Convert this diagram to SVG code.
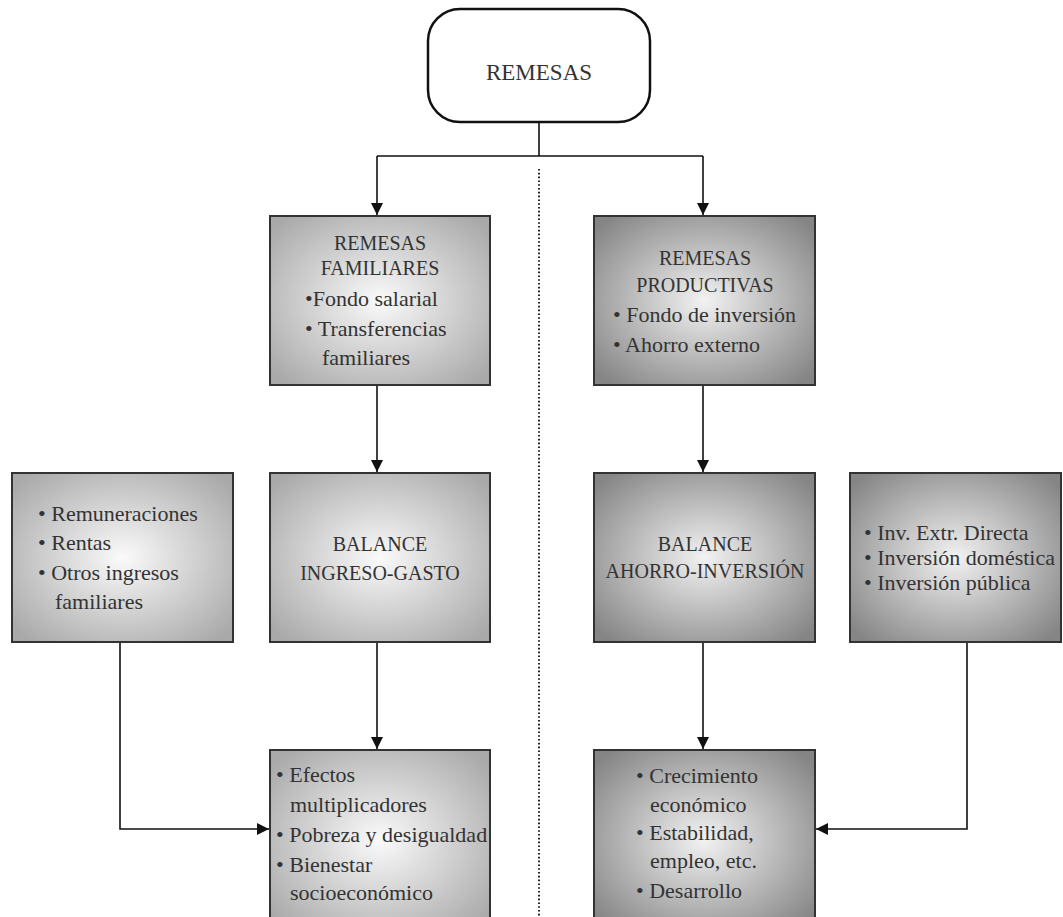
<svg xmlns="http://www.w3.org/2000/svg" width="1063" height="917" viewBox="0 0 1063 917">
<style>
  text { font-family: "Liberation Serif", "Times New Roman", serif; fill: #333; }
  .cap { font-size: 20px; }
  .t { font-size: 22px; }
  .top { font-size: 23px; }
  .box { stroke: #333; stroke-width: 2; }
  .conn { fill: none; stroke: #111; stroke-width: 1.6; }
  .dot { fill: none; stroke: #222; stroke-width: 2; stroke-dasharray: 1.6 2.2; }
</style>
<defs>
  <radialGradient id="gLight" cx="50%" cy="50%" r="65%">
    <stop offset="0" stop-color="#fafafa"/>
    <stop offset="1" stop-color="#a9a9a9"/>
  </radialGradient>
  <radialGradient id="gDark" cx="50%" cy="50%" r="65%">
    <stop offset="0" stop-color="#f2f2f2"/>
    <stop offset="1" stop-color="#858585"/>
  </radialGradient>
  <marker id="arr" markerWidth="12" markerHeight="13" refX="12" refY="6" orient="auto" markerUnits="userSpaceOnUse">
    <path d="M0,0 L12,6 L0,12 z" fill="#111"/>
  </marker>
</defs>

<g id="connectors">
  <line class="dot" x1="539" y1="169" x2="539" y2="917"/>
  <polyline class="conn" points="539,122 539,156"/>
  <polyline class="conn" points="377,156 703,156"/>
  <polyline class="conn" points="377,156 377,215" marker-end="url(#arr)"/>
  <polyline class="conn" points="703,156 703,215" marker-end="url(#arr)"/>
  <polyline class="conn" points="377,385 377,472" marker-end="url(#arr)"/>
  <polyline class="conn" points="703,385 703,472" marker-end="url(#arr)"/>
  <polyline class="conn" points="377,642 377,749" marker-end="url(#arr)"/>
  <polyline class="conn" points="703,642 703,749" marker-end="url(#arr)"/>
  <polyline class="conn" points="120,642 120,829 269,829" marker-end="url(#arr)"/>
  <polyline class="conn" points="967,642 967,829 816,829" marker-end="url(#arr)"/>
</g>

<g id="remesas">
  <rect x="428" y="9" width="222" height="113" rx="32" ry="32" fill="#fff" stroke="#111" stroke-width="2.5"/>
  <text class="top" x="539" y="80" text-anchor="middle">REMESAS</text>
</g>

<g id="remesas-familiares">
  <rect class="box" x="270" y="216" width="220" height="169" fill="url(#gLight)"/>
  <text class="cap" x="380" y="250" text-anchor="middle">REMESAS</text>
  <text class="cap" x="380" y="275" text-anchor="middle">FAMILIARES</text>
  <text class="t" x="305" y="306">•Fondo salarial</text>
  <text class="t" x="305" y="336">• Transferencias</text>
  <text class="t" x="322" y="365">familiares</text>
</g>

<g id="remesas-productivas">
  <rect class="box" x="594" y="216" width="221" height="169" fill="url(#gDark)"/>
  <text class="cap" x="705" y="265" text-anchor="middle">REMESAS</text>
  <text class="cap" x="705" y="292" text-anchor="middle">PRODUCTIVAS</text>
  <text class="t" x="613" y="322">• Fondo de inversión</text>
  <text class="t" x="613" y="352">• Ahorro externo</text>
</g>

<g id="ingresos">
  <rect class="box" x="12" y="473" width="221" height="169" fill="url(#gLight)"/>
  <text class="t" x="38" y="521">• Remuneraciones</text>
  <text class="t" x="38" y="550">• Rentas</text>
  <text class="t" x="38" y="580">• Otros ingresos</text>
  <text class="t" x="55" y="609">familiares</text>
</g>

<g id="balance-ingreso-gasto">
  <rect class="box" x="270" y="473" width="220" height="169" fill="url(#gLight)"/>
  <text class="cap" x="380" y="551" text-anchor="middle">BALANCE</text>
  <text class="cap" x="380" y="580" text-anchor="middle">INGRESO-GASTO</text>
</g>

<g id="balance-ahorro-inversion">
  <rect class="box" x="594" y="473" width="221" height="169" fill="url(#gDark)"/>
  <text class="cap" x="705" y="551" text-anchor="middle">BALANCE</text>
  <text class="cap" x="705" y="578" text-anchor="middle">AHORRO-INVERSIÓN</text>
</g>

<g id="inversion">
  <rect class="box" x="850" y="473" width="211" height="169" fill="url(#gDark)"/>
  <text class="t" x="864" y="540">• Inv. Extr. Directa</text>
  <text class="t" x="864" y="565">• Inversión doméstica</text>
  <text class="t" x="864" y="590">• Inversión pública</text>
</g>

<g id="efectos">
  <rect class="box" x="270" y="750" width="220" height="180" fill="url(#gLight)"/>
  <text class="t" x="276" y="782">• Efectos</text>
  <text class="t" x="290" y="812">multiplicadores</text>
  <text class="t" x="276" y="842">• Pobreza y desigualdad</text>
  <text class="t" x="276" y="872">• Bienestar</text>
  <text class="t" x="290" y="900">socioeconómico</text>
</g>

<g id="crecimiento">
  <rect class="box" x="594" y="750" width="221" height="180" fill="url(#gDark)"/>
  <text class="t" x="636" y="783">• Crecimiento</text>
  <text class="t" x="650" y="812">económico</text>
  <text class="t" x="636" y="840">• Estabilidad,</text>
  <text class="t" x="650" y="868">empleo, etc.</text>
  <text class="t" x="636" y="898">• Desarrollo</text>
</g>
</svg>
